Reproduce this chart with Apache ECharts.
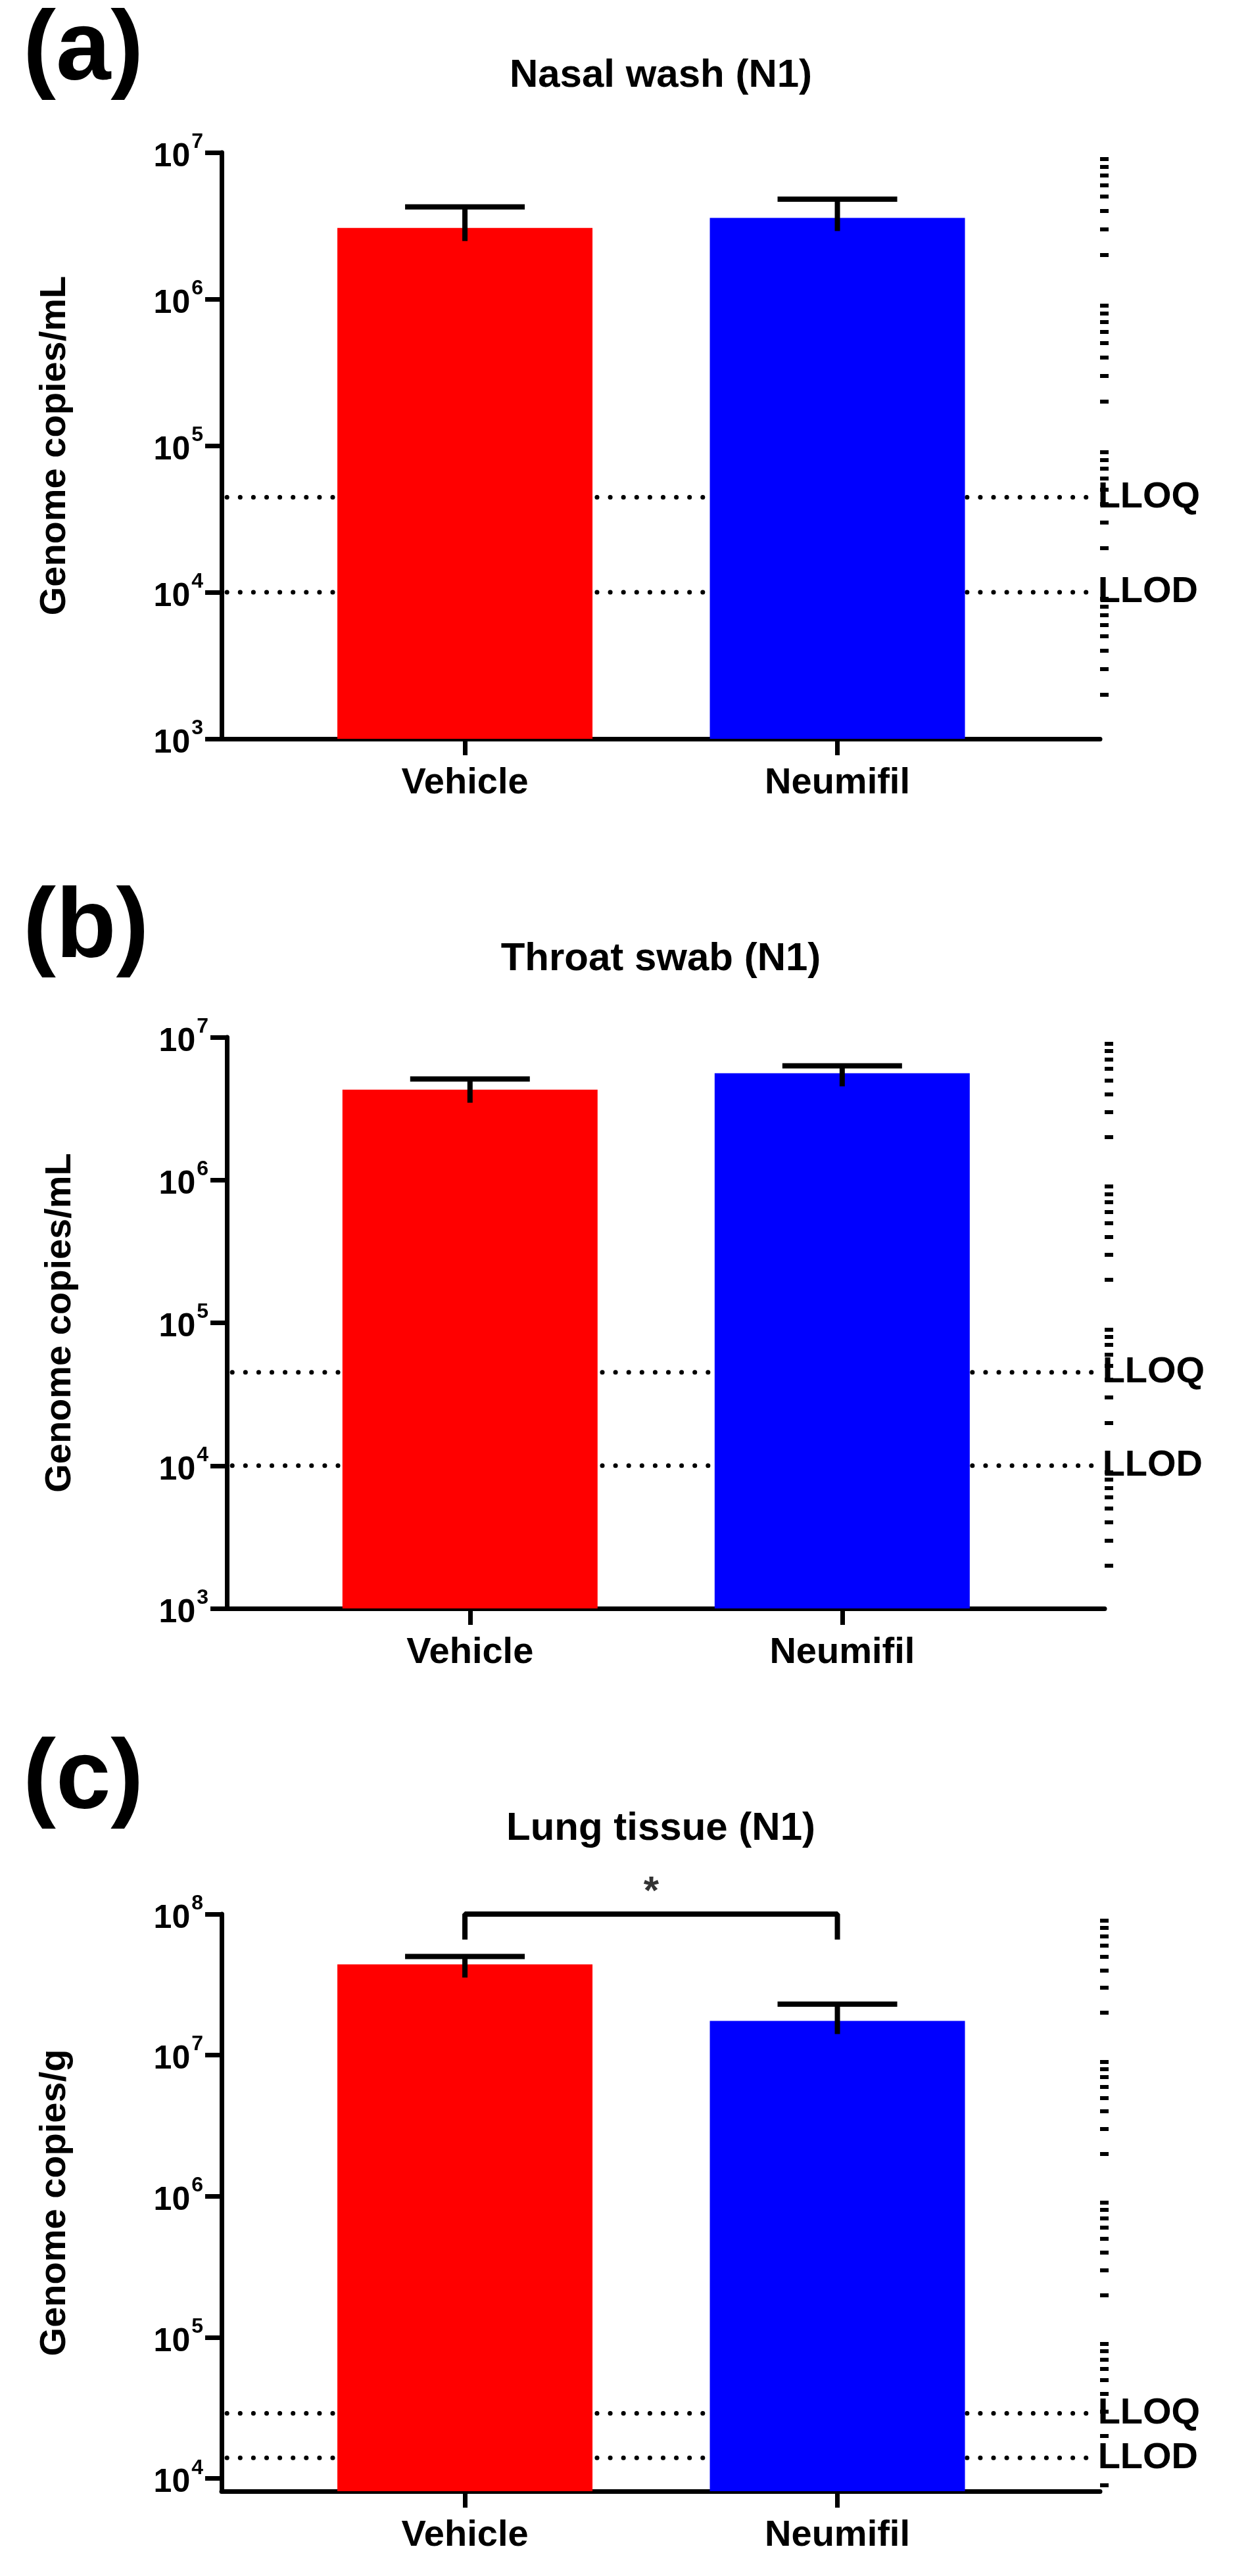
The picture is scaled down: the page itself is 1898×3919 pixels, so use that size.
<!DOCTYPE html>
<html>
<head>
<meta charset="utf-8">
<script src="https://cdn.jsdelivr.net/npm/echarts@6/dist/echarts.min.js"></script>
<style>html,body{margin:0;padding:0;background:#fff}#container{width:1898px;height:3919px}</style>
</head>
<body>
<div id="container"></div>
<script>
// data
var groups = ['Vehicle', 'Neumifil'];
var groupPos = [0.277, 0.701];
var nasalMean = [3.06e6, 3.58e6];
var nasalUpper = [4.26e6, 4.8e6];
var throatMean = [4.3e6, 5.6e6];
var throatUpper = [5.1e6, 6.3e6];
var lungMean = [4.4e7, 1.75e7];
var lungUpper = [5.0e7, 2.3e7];
var nasalLimits = { LLOQ: 4.45e4, LLOD: 1.0e4 };
var throatLimits = { LLOQ: 4.5e4, LLOD: 1.0e4 };
var lungLimits = { LLOQ: 2.9e4, LLOD: 1.4e4 };
var panels = [
    { letter: '(a)', title: 'Nasal wash (N1)', yName: 'Genome copies/mL', mean: nasalMean, upper: nasalUpper, limits: nasalLimits, min: 3, max: 7 },
    { letter: '(b)', title: 'Throat swab (N1)', yName: 'Genome copies/mL', mean: throatMean, upper: throatUpper, limits: throatLimits, min: 3, max: 7 },
    { letter: '(c)', title: 'Lung tissue (N1)', yName: 'Genome copies/g', mean: lungMean, upper: lungUpper, limits: lungLimits, min: 3.91, max: 8 }
];
var grids = [
    { left: 337, top: 232, width: 1336, height: 892 },
    { left: 345, top: 1578, width: 1335, height: 869 },
    { left: 337, top: 2912, width: 1336, height: 878 }
];
var letterTop = [0, 1335, 2630];
var titleTop = [80, 1424, 2747];

var narrow = '"Liberation Sans Narrow", "Liberation Sans", Arial, sans-serif';
var sans = '"Liberation Sans", Arial, sans-serif';
var log10 = function(v) { return Math.log10(v); };

var dom = document.getElementById('container');
var myChart = echarts.init(dom);
var option = { animation: false, grid: [], xAxis: [], yAxis: [], series: [], title: [] };

panels.forEach(function(p, i) {
    option.grid.push(grids[i]);
    option.title.push({ text: p.letter, left: 30, top: letterTop[i],
        textStyle: { fontFamily: sans, fontWeight: 'bold', fontSize: 150, color: '#000' } });
    option.title.push({ text: p.title, left: 1000, top: titleTop[i], textAlign: 'center',
        textStyle: { fontFamily: narrow, fontWeight: 'bold', fontSize: 60, color: '#000' } });

    option.xAxis.push({
        type: 'value', gridIndex: i, min: 0, max: 1,
        splitLine: { show: false },
        axisLine: { onZero: false, lineStyle: { color: '#000', width: 7 } },
        axisTick: { customValues: groupPos, length: 25, lineStyle: { color: '#000', width: 7 } },
        axisLabel: { customValues: groupPos, margin: 40, color: '#000', fontFamily: narrow, fontWeight: 'bold', fontSize: 56,
            formatter: function(v) { return groups[groupPos.indexOf(v)] || ''; } }
    });
    var majors = [];
    var minors = [];
    for (var d = Math.ceil(p.min); d <= p.max; d++) majors.push(d);
    for (var d2 = Math.floor(p.min); d2 < p.max; d2++) {
        for (var k = 2; k <= 9; k++) {
            var mv = d2 + log10(k);
            if (mv >= p.min) minors.push(mv);
        }
    }
    option.yAxis.push({
        type: 'value', gridIndex: i, min: p.min, max: p.max,
        name: p.yName, nameLocation: 'middle', nameRotate: 90, nameGap: 225,
        nameTextStyle: { fontFamily: sans, fontWeight: 'bold', fontSize: 56, color: '#000' },
        splitLine: { show: false },
        axisLine: { show: true, lineStyle: { color: '#000', width: 7 } },
        axisTick: { customValues: majors, length: 25, lineStyle: { color: '#000', width: 7 } },
        axisLabel: { customValues: majors, margin: 28, fontFamily: narrow, fontWeight: 'bold', color: '#000',
            formatter: function(v) { return '{b|10}{s|' + Math.round(v) + '}'; },
            rich: { b: { fontSize: 50, fontFamily: narrow, fontWeight: 'bold', color: '#000', padding: [14, 0, 0, 0] },
                    s: { fontSize: 32, fontFamily: narrow, fontWeight: 'bold', color: '#000', verticalAlign: 'top', padding: [0, 0, 22, 2] } } }
    });
    option.yAxis.push({
        type: 'value', gridIndex: i, min: p.min, max: p.max,
        splitLine: { show: false }, axisLine: { show: false }, axisLabel: { show: false },
        axisTick: { customValues: minors, length: 13, lineStyle: { color: '#000', width: 6 } }
    });
    var yMain = i * 2;

    // limit lines
    Object.keys(p.limits).forEach(function(name) {
        var lv = log10(p.limits[name]);
        option.series.push({
            type: 'line', xAxisIndex: i, yAxisIndex: yMain, clip: false, z: 1, symbol: 'none', silent: true,
            data: [[-0.024, lv], [0.987, lv]],
            lineStyle: { color: '#000', width: 7, type: [0.1, 20], cap: 'round' },
            endLabel: { show: true, formatter: name, distance: 14, color: '#000', fontFamily: narrow, fontWeight: 'bold', fontSize: 56 }
        });
    });
    // bars
    option.series.push({
        type: 'bar', xAxisIndex: i, yAxisIndex: yMain, barWidth: 388, z: 2,
        data: p.mean.map(function(v, j) {
            return { value: [groupPos[j], log10(v)], itemStyle: { color: j === 0 ? '#ff0000' : '#0000ff' } };
        })
    });
    // error bars
    option.series.push({
        type: 'custom', xAxisIndex: i, yAxisIndex: yMain, z: 3,
        data: p.mean.map(function(v, j) { return [groupPos[j], log10(v), log10(p.upper[j])]; }),
        renderItem: function(params, api) {
            var lo = api.coord([api.value(0), api.value(1)]);
            var hi = api.coord([api.value(0), api.value(2)]);
            var st = { stroke: '#000', lineWidth: 8 };
            return { type: 'group', children: [
                { type: 'line', shape: { x1: lo[0], y1: lo[1] + 20, x2: hi[0], y2: hi[1] }, style: st },
                { type: 'line', shape: { x1: hi[0] - 91, y1: hi[1], x2: hi[0] + 91, y2: hi[1] }, style: st }
            ] };
        }
    });
    // significance bracket
    if (i === 2) {
        option.series.push({
            type: 'line', xAxisIndex: i, yAxisIndex: yMain, clip: false, z: 4, symbol: 'none', silent: true,
            data: [[groupPos[0], 7.82], [groupPos[0], 8], [groupPos[1], 8], [groupPos[1], 7.82]],
            lineStyle: { color: '#000', width: 8 }
        });
        option.series.push({
            type: 'scatter', xAxisIndex: i, yAxisIndex: yMain, clip: false, symbolSize: 1,
            itemStyle: { color: 'transparent' },
            data: [[(groupPos[0] + groupPos[1]) / 2, 8]],
            label: { show: true, formatter: '*', position: 'top', distance: 2, color: '#000', fontFamily: sans, fontWeight: 'bold', fontSize: 60 }
        });
    }
});

if (option && typeof option === 'object') {
    myChart.setOption(option, true);
}
</script>
</body>
</html>
